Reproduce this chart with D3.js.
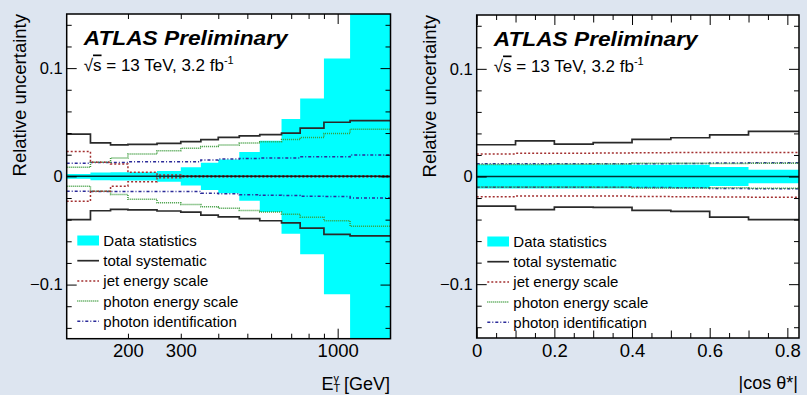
<!DOCTYPE html>
<meta charset="utf-8">
<style>

body {
  margin: 0;
  background: #dde5f0;
}

svg {
  display: block;
}

text {
  font-family: "Liberation Sans", Arial, Helvetica, sans-serif;
  fill: #000;
}

.axis .domain {
  display: none;
}

.axis line {
  stroke: #000;
  stroke-width: 1;
}

.ylab text {
  font-size: 16.5px;
}

.xlab text {
  font-size: 18.5px;
}

</style>

<body>
  <svg width="807" height="395"></svg>

  <script src="https://d3js.org/d3.v7.min.js"></script>
  <script>

  // photon ET binning [GeV] and relative uncertainties per bin
  var etEdges = [125, 150, 175, 200, 250, 300, 350, 400, 470, 550, 650, 750, 900, 1100, 1500];
  var etStat  = [0.0022, 0.0035, 0.0038, 0.0038, 0.005, 0.0085, 0.0125, 0.0155, 0.0225, 0.033, 0.053, 0.072, 0.109, 0.25];
  var etTotUp = [0.039, 0.031, 0.029, 0.0295, 0.0305, 0.032, 0.034, 0.036, 0.0374, 0.0385, 0.040, 0.0445, 0.050, 0.0515];
  var etTotDn = [-0.040, -0.0318, -0.0305, -0.031, -0.032, -0.033, -0.0358, -0.0375, -0.039, -0.041, -0.043, -0.0478, -0.0536, -0.055];
  var etJesUp = [0.023, 0.013, 0.0115, 0.0037, 0.0012, 0.0006, 0.0005, 0.0005, 0.0005, 0.0005, 0.0005, 0.0005, 0.0005, 0.0005];
  var etJesDn = [-0.023, -0.0138, -0.0092, -0.0049, -0.0012, -0.0006, -0.0005, -0.0005, -0.0005, -0.0005, -0.0005, -0.0005, -0.0005, -0.0005];
  var etPesUp = [0.0085, 0.013, 0.017, 0.0206, 0.0236, 0.026, 0.0275, 0.029, 0.0307, 0.032, 0.034, 0.036, 0.0396, 0.0436];
  var etPesDn = [-0.0092, -0.0138, -0.0168, -0.0212, -0.0245, -0.026, -0.0282, -0.0295, -0.0315, -0.033, -0.035, -0.0377, -0.041, -0.046];
  var etPidUp = [0.012, 0.0128, 0.0128, 0.0135, 0.0135, 0.0135, 0.015, 0.016, 0.0166, 0.017, 0.017, 0.018, 0.018, 0.0198];
  var etPidDn = [-0.0138, -0.014, -0.014, -0.014, -0.014, -0.014, -0.0155, -0.016, -0.017, -0.0175, -0.0178, -0.0185, -0.0187, -0.020];

  // |cos theta*| binning and relative uncertainties per bin
  var cosEdges = [0, 0.1, 0.2, 0.3, 0.4, 0.5, 0.6, 0.7, 0.83];
  var cosStat  = [0.0112, 0.0112, 0.0112, 0.0112, 0.011, 0.0108, 0.0088, 0.0063];
  var cosTotUp = [0.0295, 0.033, 0.030, 0.0315, 0.0345, 0.036, 0.0387, 0.042];
  var cosTotDn = [-0.0275, -0.0307, -0.0285, -0.0287, -0.0314, -0.0323, -0.0378, -0.040];
  var cosJesUp = [0.021, 0.0215, 0.0215, 0.0218, 0.022, 0.0222, 0.0222, 0.0222];
  var cosJesDn = [-0.0188, -0.0182, -0.0182, -0.0182, -0.0185, -0.0188, -0.019, -0.0193];
  var cosPesUp = [0.0112, 0.0112, 0.0114, 0.0116, 0.0122, 0.0122, 0.012, 0.0123];
  var cosPesDn = [-0.0098, -0.0098, -0.0098, -0.010, -0.0106, -0.0106, -0.0104, -0.0108];
  var cosPidUp = [0.0118, 0.0118, 0.0118, 0.0118, 0.0118, 0.012, 0.0126, 0.0128];
  var cosPidDn = [-0.010, -0.010, -0.010, -0.010, -0.0102, -0.0104, -0.0112, -0.0114];

  // ticks and labels
  var etMinor = [200, 300, 400, 500, 600, 700, 800, 900];
  var etMajor = [1000];
  var etLabels = [200, 300, 1000];
  var cosMinor = [0.05, 0.15, 0.25, 0.35, 0.45, 0.55, 0.65, 0.75];
  var cosMid = [0.1, 0.3, 0.5, 0.7];
  var cosLabels = [0, 0.2, 0.4, 0.6, 0.8];
  var yMinor = [-0.14, -0.12, -0.08, -0.06, -0.04, -0.02, 0.02, 0.04, 0.06, 0.08, 0.12, 0.14];
  var yLabels = [-0.1, 0, 0.1];

  var legendLabels = ["Data statistics", "total systematic", "jet energy scale", "photon energy scale", "photon identification"];

  var svg = d3.select("svg");

  var styles = {
    tot: {stroke: "#2a2a2a", width: 1.7, dash: null},
    jes: {stroke: "#a33030", width: 1.5, dash: "2,2"},
    pes: {stroke: "#3a9a3a", width: 1.5, dash: "1,1"},
    pid: {stroke: "#2b2b99", width: 1.5, dash: "3,2,1,2"}
  };

  function stepPoints(edges, vals) {
    var pts = vals.map(function(v, i) { return [edges[i], v]; });
    pts.push([edges[edges.length - 1], vals[vals.length - 1]]);
    return pts;
  }

  function addAxis(g, axis, tx, ty, cls) {
    g.append("g")
        .attr("class", "axis " + (cls || ""))
        .attr("transform", "translate(" + tx + "," + ty + ")")
        .call(axis);
  }

  function drawPanel(p) {
    var g = svg.append("g");
    var x = p.x;
    var y = d3.scaleLinear().domain([-0.15, 0.15]).range([p.bottom, p.top]);
    var w = p.right - p.left, h = p.bottom - p.top;

    g.append("rect")
        .attr("x", p.left).attr("y", p.top)
        .attr("width", w).attr("height", h)
        .attr("fill", "#fff");

    g.append("clipPath")
        .attr("id", p.id + "clip")
      .append("rect")
        .attr("x", p.left).attr("y", p.top)
        .attr("width", w).attr("height", h);

    var plot = g.append("g").attr("clip-path", "url(#" + p.id + "clip)");

    var area = d3.area()
        .curve(d3.curveStepAfter)
        .x(function(d) { return x(d[0]); })
        .y0(function(d) { return y(-d[1]); })
        .y1(function(d) { return y(d[1]); });

    plot.append("path")
        .datum(stepPoints(p.edges, p.stat))
        .attr("fill", "#00ffff")
        .attr("d", area);

    var line = d3.line()
        .curve(d3.curveStepAfter)
        .x(function(d) { return x(d[0]); })
        .y(function(d) { return y(d[1]); });

    var series = [
      [p.pid[0], "pid"], [p.pid[1], "pid"],
      [p.pes[0], "pes"], [p.pes[1], "pes"],
      [p.jes[0], "jes"], [p.jes[1], "jes"],
      [p.tot[0], "tot"], [p.tot[1], "tot"]
    ];

    series.forEach(function(s) {
      var st = styles[s[1]];
      plot.append("path")
          .datum(stepPoints(p.edges, s[0]))
          .attr("fill", "none")
          .attr("stroke", st.stroke)
          .attr("stroke-width", st.width)
          .attr("stroke-dasharray", st.dash)
          .attr("d", line);
    });

    // line at zero
    plot.append("line")
        .attr("x1", p.left).attr("x2", p.right)
        .attr("y1", y(0)).attr("y2", y(0))
        .attr("stroke", "#000")
        .attr("stroke-opacity", 0.8)
        .attr("stroke-width", 1.5);

    // y ticks, both sides, inward
    addAxis(g, d3.axisLeft(y).tickValues(yMinor).tickSize(-5).tickFormat(""), p.left, 0);
    addAxis(g, d3.axisLeft(y).tickValues(yLabels).tickSize(-10).tickFormat(""), p.left, 0);
    addAxis(g, d3.axisRight(y).tickValues(yMinor).tickSize(-5).tickFormat(""), p.right, 0);
    addAxis(g, d3.axisRight(y).tickValues(yLabels).tickSize(-10).tickFormat(""), p.right, 0);
    addAxis(g, d3.axisLeft(y).tickValues(yLabels).tickSize(0).tickPadding(4)
        .tickFormat(function(d) { return d === 0 ? "0" : d3.format(".1f")(d); }), p.left, 0, "ylab");

    // x ticks, both sides, inward
    p.xTicks.forEach(function(t) {
      addAxis(g, d3.axisBottom(x).tickValues(t[0]).tickSize(-t[1]).tickFormat(""), 0, p.bottom);
      addAxis(g, d3.axisTop(x).tickValues(t[0]).tickSize(-t[1]).tickFormat(""), 0, p.top);
    });
    addAxis(g, d3.axisBottom(x).tickValues(p.xLabels).tickSize(0).tickPadding(5.5)
        .tickFormat(p.xFormat), 0, p.bottom, "xlab");

    g.append("rect")
        .attr("x", p.left).attr("y", p.top)
        .attr("width", w).attr("height", h)
        .attr("fill", "none")
        .attr("stroke", "#000")
        .attr("stroke-width", 1.5);

    // y title
    g.append("text")
        .attr("transform", "translate(" + (p.left - 40.5) + "," + p.top + ") rotate(-90)")
        .attr("text-anchor", "end")
        .attr("font-size", 18.5)
        .text("Relative uncertainty");

    // ATLAS label
    g.append("text")
        .attr("x", p.left + 17)
        .attr("y", p.top + 31)
        .attr("font-size", 19.5)
        .attr("font-weight", "bold")
        .attr("font-style", "italic")
        .attr("textLength", 204)
        .attr("lengthAdjust", "spacingAndGlyphs")
        .text("ATLAS Preliminary");

    var lumi = g.append("text")
        .attr("x", p.left + 17)
        .attr("y", p.top + 56.5)
        .attr("font-size", 17);
    lumi.append("tspan").text("\u221A");
    lumi.append("tspan").style("text-decoration", "overline").text("s");
    lumi.append("tspan").text(" = 13 TeV, 3.2 fb");
    lumi.append("tspan").attr("font-size", 11).attr("dy", -7).text("-1");

    // legend
    var leg = g.append("g")
        .attr("transform", "translate(" + p.left + "," + (p.top + 226.5) + ")");

    var keys = [null, "tot", "jes", "pes", "pid"];
    var item = leg.selectAll("g")
        .data(legendLabels)
      .enter().append("g")
        .attr("transform", function(d, i) { return "translate(0," + (i * 20.2) + ")"; });

    item.each(function(d, i) {
      var el = d3.select(this);
      if (i === 0) {
        el.append("rect")
            .attr("x", 10.6).attr("y", -5)
            .attr("width", 21.7).attr("height", 10)
            .attr("fill", "#00ffff");
      } else {
        var st = styles[keys[i]];
        el.append("line")
            .attr("x1", 10.6).attr("x2", 32.3)
            .attr("stroke", st.stroke)
            .attr("stroke-width", st.width)
            .attr("stroke-dasharray", st.dash);
      }
    });

    item.append("text")
        .attr("x", 36.6)
        .attr("dy", "0.36em")
        .attr("font-size", 15)
        .text(function(d) { return d; });

    p.xTitle(g);
  }

  drawPanel({
    id: "et",
    left: 66.7, right: 390.5, top: 14, bottom: 338.7,
    x: d3.scaleLog().domain([125, 1500]).range([66.7, 390.5]),
    edges: etEdges, stat: etStat,
    tot: [etTotUp, etTotDn], jes: [etJesUp, etJesDn],
    pes: [etPesUp, etPesDn], pid: [etPidUp, etPidDn],
    xTicks: [[etMinor, 5], [etMajor, 10]],
    xLabels: etLabels,
    xFormat: function(d) { return d; },
    xTitle: function(g) {
      var t = g.append("text")
          .attr("x", 390)
          .attr("y", 389.5)
          .attr("text-anchor", "end")
          .attr("font-size", 18);
      t.append("tspan").text("E");
      t.append("tspan").attr("font-size", 11).attr("dy", 2.5).text("T");
      t.append("tspan").attr("font-size", 11).attr("dx", -6.8).attr("dy", -10.5).text("\u03B3");
      t.append("tspan").attr("dy", 8).text(" [GeV]");
    }
  });

  drawPanel({
    id: "cos",
    left: 476.7, right: 799, top: 15, bottom: 338,
    x: d3.scaleLinear().domain([0, 0.83]).range([476.7, 799]),
    edges: cosEdges, stat: cosStat,
    tot: [cosTotUp, cosTotDn], jes: [cosJesUp, cosJesDn],
    pes: [cosPesUp, cosPesDn], pid: [cosPidUp, cosPidDn],
    xTicks: [[cosMinor, 5], [cosMid, 7.5], [cosLabels, 10]],
    xLabels: cosLabels,
    xFormat: function(d) { return d === 0 ? "0" : d3.format(".1f")(d); },
    xTitle: function(g) {
      g.append("text")
          .attr("x", 798)
          .attr("y", 388.5)
          .attr("text-anchor", "end")
          .attr("font-size", 18)
          .text("|cos \u03B8*|");
    }
  });

  </script>
</body>
